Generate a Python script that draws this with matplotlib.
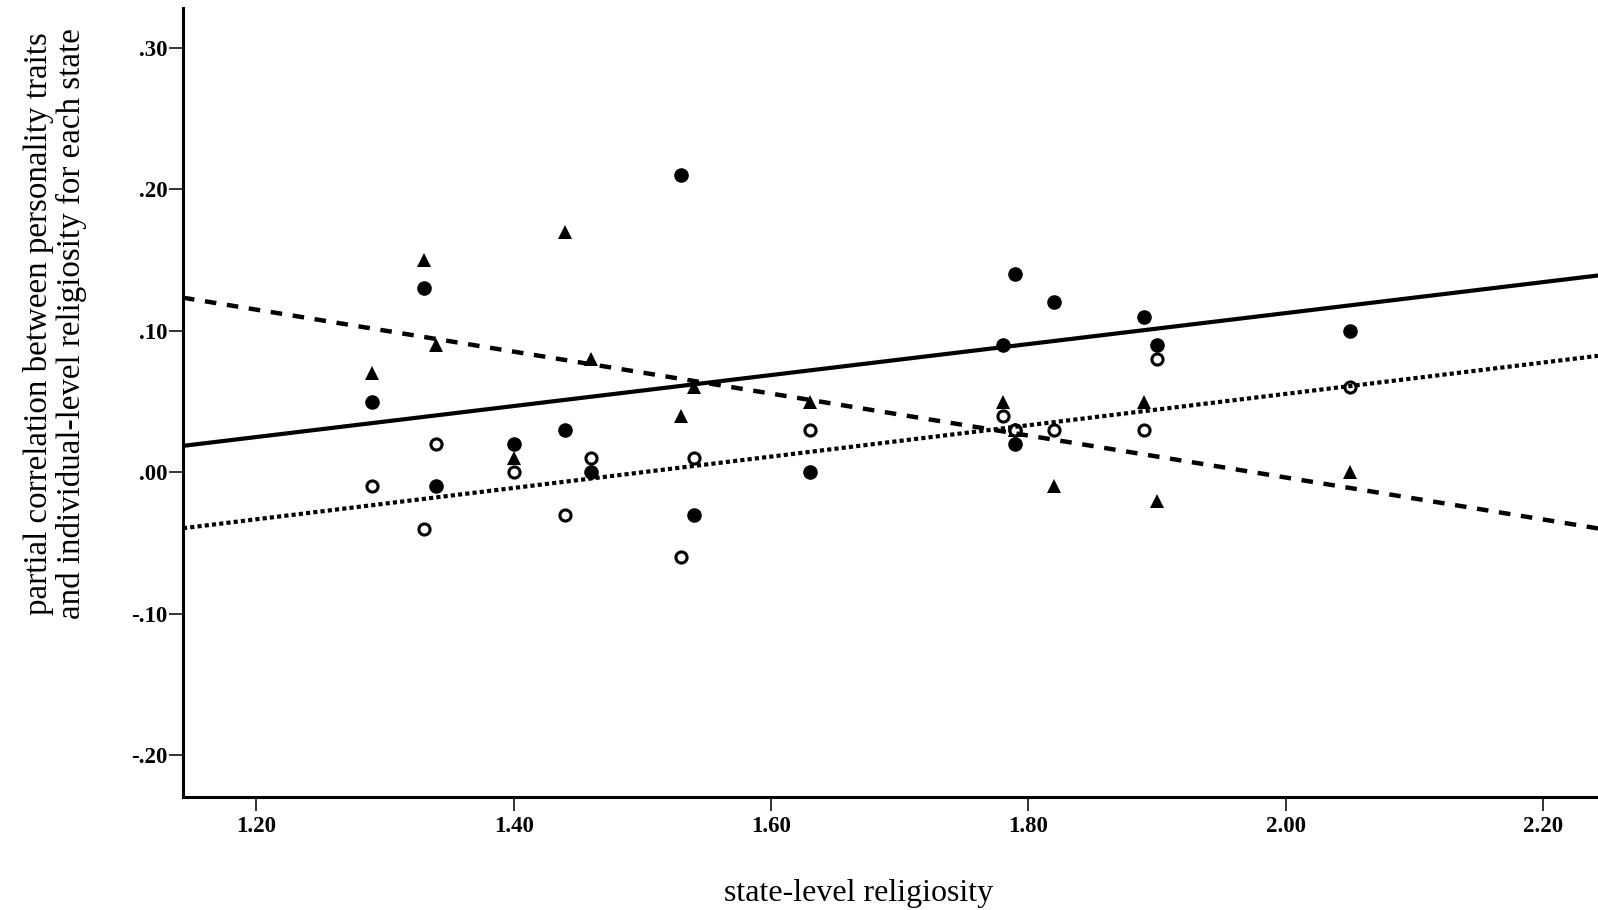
import matplotlib
matplotlib.use("Agg")
import matplotlib.pyplot as plt
import numpy as np

### data ###
# state-level religiosity (one value per state)
state_rel = [1.29, 1.33, 1.34, 1.40, 1.44, 1.46, 1.53, 1.54, 1.63, 1.78, 1.79, 1.79, 1.82, 1.89, 1.90, 2.05]

# filled circles
corr_filled = [0.05, 0.13, -0.01, 0.02, 0.03, 0.00, 0.21, -0.03, 0.00, 0.09, 0.14, 0.02, 0.12, 0.11, 0.09, 0.10]
# triangles
corr_triangle = [0.07, 0.15, 0.09, 0.01, 0.17, 0.08, 0.04, 0.06, 0.05, 0.05, 0.03, 0.03, -0.01, 0.05, -0.02, 0.00]
# open circles
corr_open = [-0.01, -0.04, 0.02, 0.00, -0.03, 0.01, -0.06, 0.01, 0.03, 0.04, 0.03, 0.03, 0.03, 0.03, 0.08, 0.06]

# fit lines (intercept, slope)
fit_filled = (-0.1065, 0.1095)
fit_triangle = (0.2929, -0.1483)
fit_open = (-0.1662, 0.1108)

x_ticks = [1.20, 1.40, 1.60, 1.80, 2.00, 2.20]
x_ticklabels = ["1.20", "1.40", "1.60", "1.80", "2.00", "2.20"]
y_ticks = [-0.20, -0.10, 0.00, 0.10, 0.20, 0.30]
y_ticklabels = ["-.20", "-.10", ".00", ".10", ".20", ".30"]

xmin, xmax = 1.143, 2.2427
ymin, ymax = -0.2295, 0.328

### plotting ###
plt.rcParams['font.family'] = ['Liberation Serif', 'DejaVu Serif']

fig = plt.figure(figsize=(15.98, 9.10), dpi=100)
ax = fig.add_axes([0.1145, 0.1242, 0.8855, 0.8668])

ax.plot(state_rel, corr_filled, 'o', color='black', markersize=10.5, markeredgewidth=0, zorder=2)
ax.plot(state_rel, corr_triangle, '^', color='black', markersize=10, markeredgewidth=0, zorder=2)
ax.plot(state_rel, corr_open, 'o', markerfacecolor='white', markeredgecolor='black',
        markersize=8, markeredgewidth=2.2, zorder=2)

xs = np.array([xmin, xmax])
ax.plot(xs, fit_filled[0] + fit_filled[1]*xs, '-', color='black', lw=3, zorder=3)
ax.plot(xs, fit_triangle[0] + fit_triangle[1]*xs, color='black', lw=3.2,
        dashes=(2.6, 2.4), zorder=3)
ax.plot(xs, fit_open[0] + fit_open[1]*xs, color='black', lw=3,
        dashes=(1, 0.75), zorder=3)

ax.set_xlim(xmin, xmax)
ax.set_ylim(ymin, ymax)

ax.spines['top'].set_visible(False)
ax.spines['right'].set_visible(False)
ax.spines['left'].set_linewidth(2.2)
ax.spines['bottom'].set_linewidth(2.2)

ax.set_xticks(x_ticks)
ax.set_xticklabels(x_ticklabels, fontsize=16.5, fontweight='bold')
ax.set_yticks(y_ticks)
ax.set_yticklabels(y_ticklabels, fontsize=16.5, fontweight='bold')
ax.tick_params(axis='both', length=10, width=1.4, color='#333333')
ax.tick_params(axis='y', pad=1)
ax.tick_params(axis='x', pad=4)

fig.text(0.5375, 0.0176, "state-level religiosity", fontsize=23, ha='center', va='center')
fig.text(0.0344, 0.644, "partial correlation between personality traits\nand individual-level religiosity for each state",
         fontsize=23.8, rotation=90, ha='center', va='center', linespacing=1.1, multialignment='center')

fig.savefig("out.png", dpi=100)
